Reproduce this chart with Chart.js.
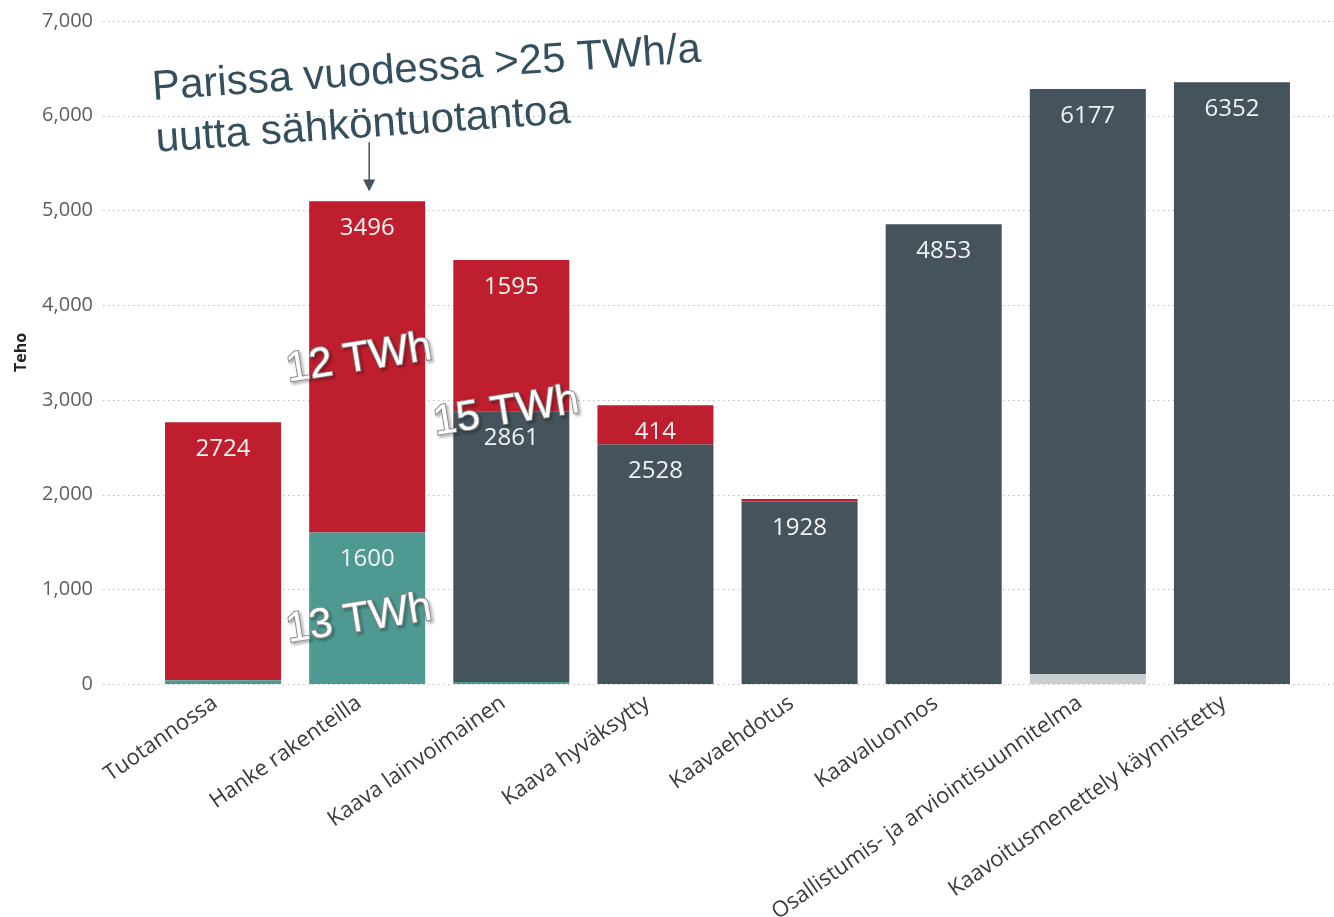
<!DOCTYPE html>
<html>
<head>
<meta charset="utf-8">
<script src="https://cdn.jsdelivr.net/npm/chart.js@4.4.1/dist/chart.umd.min.js"></script>
<style>
  html, body { margin: 0; background: #fff; }
  #wrap { width: 1334px; height: 917px; }
</style>
</head>
<body>
<div id="wrap"><canvas id="chart" width="1334" height="917"></canvas></div>
<script>
const categories = [
  'Tuotannossa',
  'Hanke rakenteilla',
  'Kaava lainvoimainen',
  'Kaava hyväksytty',
  'Kaavaehdotus',
  'Kaavaluonnos',
  'Osallistumis- ja arviointisuunnitelma',
  'Kaavoitusmenettely käynnistetty'
];
// stacked from bottom to top
const tealValues  = [40, 1600, 20, 0, 0, 0, 0, 0];
const lightValues = [0, 0, 0, 0, 0, 0, 105, 0];
const darkValues  = [0, 0, 2861, 2528, 1928, 4853, 6177, 6352];
const redValues   = [2724, 3496, 1595, 414, 25, 0, 0, 0];
const yTicks = [0, 1000, 2000, 3000, 4000, 5000, 6000, 7000];

const TEAL = '#4E9A93';
const LIGHT = '#C9CED1';
const DARK = '#44535C';
const RED = '#BE1E2D';
const uiFont = "'Open Sans', 'DejaVu Sans', sans-serif";
const arialFont = "'Liberation Sans', Arial, sans-serif";

// dotted horizontal grid, a bit wider than the plot area like the original
const dottedGrid = {
  id: 'dottedGrid',
  beforeDatasetsDraw(chart) {
    const { ctx, scales: { y } } = chart;
    ctx.save();
    ctx.strokeStyle = '#BDBDBD';
    ctx.lineWidth = 1;
    ctx.setLineDash([1.5, 3.5]);
    yTicks.forEach(v => {
      const py = Math.round(y.getPixelForValue(v)) + 0.5;
      ctx.beginPath();
      ctx.moveTo(103, py);
      ctx.lineTo(chart.width, py);
      ctx.stroke();
    });
    ctx.restore();
  }
};

// value labels at the inside top of each segment
const segmentLabels = {
  id: 'segmentLabels',
  afterDatasetsDraw(chart) {
    const { ctx } = chart;
    ctx.save();
    ctx.font = `24px ${uiFont}`;
    ctx.fillStyle = '#F2F2F2';
    ctx.textAlign = 'center';
    ctx.textBaseline = 'middle';
    chart.data.datasets.forEach((ds, i) => {
      chart.getDatasetMeta(i).data.forEach((el, j) => {
        const v = ds.data[j];
        if (v < 300) return;
        ctx.fillText(String(v), el.x, el.y + 27);
      });
    });
    ctx.restore();
  }
};

function outlinedText(ctx, text, x, y, angle) {
  ctx.save();
  ctx.translate(x, y);
  ctx.rotate(angle * Math.PI / 180);
  ctx.font = `42px ${arialFont}`;
  ctx.textAlign = 'left';
  ctx.textBaseline = 'alphabetic';
  ctx.shadowColor = 'rgba(0,0,0,0.4)';
  ctx.shadowBlur = 3;
  ctx.shadowOffsetX = 2;
  ctx.shadowOffsetY = 2;
  ctx.lineWidth = 2;
  ctx.strokeStyle = '#8C8C8C';
  ctx.strokeText(text, 0, 0);
  ctx.shadowColor = 'transparent';
  ctx.fillStyle = '#FFFFFF';
  ctx.fillText(text, 0, 0);
  ctx.restore();
}

const annotations = {
  id: 'annotations',
  afterDraw(chart) {
    const { ctx, scales: { x, y } } = chart;
    // headline
    ctx.save();
    ctx.translate(153, 100);
    ctx.rotate(-4 * Math.PI / 180);
    ctx.font = `42px ${arialFont}`;
    ctx.fillStyle = '#34505E';
    ctx.textAlign = 'left';
    ctx.textBaseline = 'alphabetic';
    ctx.fillText('Parissa vuodessa >25 TWh/a', 0, 0);
    ctx.fillText('uutta sähköntuotantoa', 0, 52);
    ctx.restore();

    // arrow down to "Hanke rakenteilla"
    const ax = x.getPixelForValue(1) + 2;
    const aTop = y.getPixelForValue(5720);
    const aBot = y.getPixelForValue(5200);
    ctx.save();
    ctx.strokeStyle = DARK;
    ctx.fillStyle = DARK;
    ctx.lineWidth = 1.5;
    ctx.beginPath();
    ctx.moveTo(ax, aTop);
    ctx.lineTo(ax, aBot - 10);
    ctx.stroke();
    ctx.beginPath();
    ctx.moveTo(ax - 6, aBot - 12);
    ctx.lineTo(ax + 6, aBot - 12);
    ctx.lineTo(ax, aBot);
    ctx.closePath();
    ctx.fill();
    ctx.restore();

    outlinedText(ctx, '12 TWh', x.getPixelForValue(1) - 79, y.getPixelForValue(3190), -9);
    outlinedText(ctx, '13 TWh', x.getPixelForValue(1) - 79, y.getPixelForValue(440), -9);
    outlinedText(ctx, '15 TWh', x.getPixelForValue(2) - 76, y.getPixelForValue(2630), -9);
  }
};

new Chart(document.getElementById('chart'), {
  type: 'bar',
  data: {
    labels: categories,
    datasets: [
      { label: 'Sarja 1', data: tealValues, backgroundColor: TEAL },
      { label: 'Sarja 2', data: lightValues, backgroundColor: LIGHT },
      { label: 'Sarja 3', data: darkValues, backgroundColor: DARK },
      { label: 'Sarja 4', data: redValues, backgroundColor: RED }
    ]
  },
  options: {
    responsive: false,
    animation: false,
    layout: { padding: { top: 21, right: 30, left: 0, bottom: 0 } },
    datasets: { bar: { categoryPercentage: 1, barPercentage: 0.805 } },
    plugins: {
      legend: { display: false },
      tooltip: { enabled: false }
    },
    scales: {
      x: {
        stacked: true,
        grid: { display: false, drawTicks: false },
        border: { display: false },
        ticks: {
          minRotation: 35, maxRotation: 35, padding: 6,
          labelOffset: -8,
          autoSkip: false,
          color: '#3A3A3A',
          font: { family: uiFont, size: 22 }
        },
        afterFit: s => { s.height = 233; }
      },
      y: {
        stacked: true,
        min: 0, max: 7000,
        grid: { display: false, drawTicks: false },
        border: { display: false },
        title: {
          display: true, text: 'Teho', color: '#252423',
          font: { family: uiFont, size: 16, weight: 'bold' },
          padding: { top: 12, bottom: 10 }
        },
        ticks: {
          stepSize: 1000, padding: 58,
          color: '#605E5C',
          font: { family: uiFont, size: 20 },
          callback: v => v.toLocaleString('en-US')
        },
        afterFit: s => {
          s.width = 151;
          s.paddingTop = 0;
          s.paddingBottom = 0;
        }
      }
    }
  },
  plugins: [dottedGrid, segmentLabels, annotations]
});
</script>
</body>
</html>
